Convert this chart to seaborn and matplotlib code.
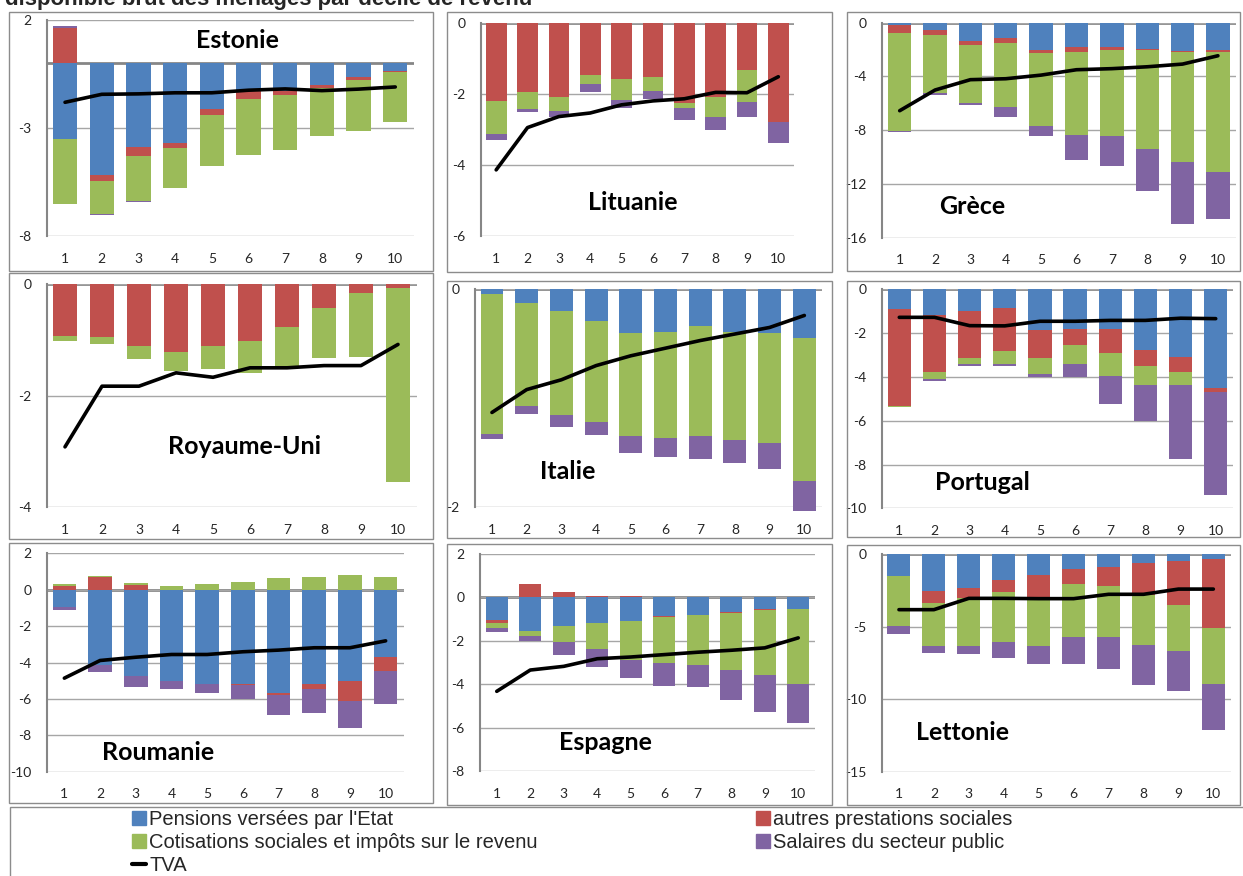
import numpy as np
import seaborn as sns
import matplotlib.pyplot as plt
from matplotlib.patches import Rectangle, Patch
from matplotlib.lines import Line2D

W, H = 1243, 876

deciles = list(range(1, 11))

# séries (en % du revenu disponible brut), lues sur le graphique
# ordre d'empilement : pensions, autres prestations, cotisations, salaires publics
est_pensions = [-3.52, -5.17, -3.89, -3.71, -2.13, -1.31, -1.31, -1.02, -0.65, -0.36]
est_autres = [1.62, -0.28, -0.40, -0.23, -0.28, -0.34, -0.17, -0.15, -0.12, -0.05]
est_cotis = [-3.01, -1.54, -2.07, -1.82, -2.35, -2.58, -2.52, -2.22, -2.35, -2.30]
est_salaires = [0.08, -0.05, -0.05, 0, 0, 0, 0, 0, 0, 0]
est_tva = [-1.81, -1.44, -1.42, -1.37, -1.37, -1.25, -1.19, -1.27, -1.20, -1.10]

lit_pensions = [0, 0, 0, 0, 0, 0, 0, 0, 0, 0]
lit_autres = [-2.20, -1.95, -2.10, -1.48, -1.59, -1.52, -2.27, -2.10, -1.34, -2.78]
lit_cotis = [-0.94, -0.47, -0.39, -0.25, -0.58, -0.40, -0.12, -0.54, -0.90, 0]
lit_salaires = [-0.17, -0.10, -0.17, -0.22, -0.23, -0.23, -0.35, -0.37, -0.42, -0.60]
lit_tva = [-4.14, -2.95, -2.64, -2.54, -2.31, -2.20, -2.14, -1.96, -1.97, -1.52]

gre_pensions = [-0.17, -0.57, -1.34, -1.17, -2.01, -1.84, -1.84, -1.99, -2.08, -2.03]
gre_autres = [-0.60, -0.35, -0.32, -0.35, -0.25, -0.35, -0.22, -0.07, -0.10, -0.12]
gre_cotis = [-7.30, -4.34, -4.34, -4.79, -5.43, -6.18, -6.38, -7.34, -8.16, -8.93]
gre_salaires = [-0.10, -0.10, -0.10, -0.72, -0.74, -1.86, -2.23, -3.15, -4.62, -3.52]
gre_tva = [-6.55, -5.01, -4.24, -4.17, -3.90, -3.50, -3.42, -3.28, -3.08, -2.46]

ru_pensions = [0, 0, 0, 0, 0, 0, 0, 0, 0, 0]
ru_autres = [-0.92, -0.95, -1.10, -1.21, -1.10, -1.01, -0.77, -0.43, -0.16, -0.07]
ru_cotis = [-0.10, -0.13, -0.25, -0.34, -0.43, -0.59, -0.73, -0.89, -1.14, -3.48]
ru_salaires = [0, 0, 0, 0, 0, 0, 0, 0, 0, 0]
ru_tva = [-2.92, -1.83, -1.83, -1.59, -1.67, -1.50, -1.50, -1.46, -1.46, -1.08]

ita_pensions = [-0.04, -0.13, -0.20, -0.29, -0.40, -0.39, -0.34, -0.39, -0.40, -0.45]
ita_autres = [0, 0, 0, 0, 0, 0, 0, 0, 0, 0]
ita_cotis = [-1.29, -0.94, -0.95, -0.93, -0.95, -0.97, -1.01, -0.99, -1.01, -1.31]
ita_salaires = [-0.04, -0.07, -0.11, -0.12, -0.15, -0.18, -0.21, -0.21, -0.24, -0.27]
ita_tva = [-1.13, -0.92, -0.83, -0.70, -0.61, -0.54, -0.47, -0.41, -0.35, -0.24]

por_pensions = [-0.91, -1.19, -0.97, -0.87, -1.87, -1.83, -1.83, -2.77, -3.10, -4.51]
por_autres = [-4.40, -2.59, -2.18, -1.95, -1.28, -0.73, -1.10, -0.73, -0.67, -0.17]
por_cotis = [-0.08, -0.33, -0.27, -0.58, -0.70, -0.85, -1.03, -0.85, -0.58, 0]
por_salaires = [0, -0.06, -0.06, -0.11, -0.17, -0.61, -1.26, -1.67, -3.38, -4.72]
por_tva = [-1.28, -1.28, -1.66, -1.67, -1.46, -1.46, -1.42, -1.42, -1.32, -1.34]

rou_pensions = [-0.97, -4.15, -4.75, -5.01, -5.16, -5.16, -5.69, -5.19, -5.03, -3.72]
rou_autres = [0.22, 0.68, 0.24, 0, 0, -0.06, -0.11, -0.28, -1.06, -0.75]
rou_cotis = [0.09, 0.09, 0.13, 0.22, 0.29, 0.42, 0.62, 0.68, 0.83, 0.68]
rou_salaires = [-0.13, -0.39, -0.59, -0.46, -0.51, -0.81, -1.08, -1.28, -1.52, -1.80]
rou_tva = [-4.86, -3.89, -3.71, -3.56, -3.56, -3.41, -3.32, -3.19, -3.19, -2.81]

esp_pensions = [-1.03, -1.54, -1.31, -1.17, -1.08, -0.85, -0.83, -0.66, -0.55, -0.51]
esp_autres = [-0.14, 0.63, 0.23, 0.09, 0.09, -0.03, 0, -0.06, -0.03, 0]
esp_cotis = [-0.23, -0.22, -0.72, -1.22, -1.82, -2.12, -2.28, -2.60, -2.97, -3.45]
esp_salaires = [-0.17, -0.26, -0.62, -0.82, -0.80, -1.09, -1.03, -1.40, -1.72, -1.83]
esp_tva = [-4.32, -3.34, -3.17, -2.82, -2.74, -2.63, -2.52, -2.43, -2.32, -1.86]

let_pensions = [-1.50, -2.53, -2.35, -1.75, -1.43, -0.99, -0.90, -0.62, -0.48, -0.32]
let_autres = [0, -0.83, -0.69, -0.83, -1.73, -1.08, -1.27, -2.19, -3.04, -4.79]
let_cotis = [-3.46, -2.97, -3.29, -3.50, -3.18, -3.66, -3.57, -3.43, -3.13, -3.82]
let_salaires = [-0.51, -0.48, -0.58, -1.06, -1.24, -1.84, -2.17, -2.76, -2.76, -3.20]
let_tva = [-3.82, -3.82, -3.04, -3.04, -3.06, -3.06, -2.76, -2.76, -2.40, -2.40]

series_labels = ["Pensions versées par l'Etat", "autres prestations sociales",
                 "Cotisations sociales et impôts sur le revenu", "Salaires du secteur public"]
colors = ["#4F81BD", "#C0504D", "#9BBB59", "#8064A2"]

# (nom, données, ymin, ymax, pas, axes en px [gauche, haut, droite, bas], cadre px, position du nom px)
panels = [
    ("Estonie", (est_pensions, est_autres, est_cotis, est_salaires, est_tva), -8, 2, 5,
     (46.7, 20, 413.6, 236), (9, 12, 433, 271), (237, 40)),
    ("Lituanie", (lit_pensions, lit_autres, lit_cotis, lit_salaires, lit_tva), -6, 0, 2,
     (480.5, 22.7, 794, 236), (447, 12, 832, 272), (633, 203)),
    ("Grèce", (gre_pensions, gre_autres, gre_cotis, gre_salaires, gre_tva), -16, 0, 4,
     (882, 22.7, 1235.6, 237.7), (847, 12, 1240, 271), (972, 207)),
    ("Royaume-Uni", (ru_pensions, ru_autres, ru_cotis, ru_salaires, ru_tva), -4, 0, 2,
     (46.5, 284.3, 416.5, 507), (9, 273, 433, 539), (245, 446)),
    ("Italie", (ita_pensions, ita_autres, ita_cotis, ita_salaires, ita_tva), -2, 0, 2,
     (474.6, 289.3, 821.7, 507.3), (447, 281, 832, 538), (568, 471)),
    ("Portugal", (por_pensions, por_autres, por_cotis, por_salaires, por_tva), -10, 0, 2,
     (881.7, 289.3, 1233.3, 508.3), (847, 281, 1240, 537), (982, 483)),
    ("Roumanie", (rou_pensions, rou_autres, rou_cotis, rou_salaires, rou_tva), -10, 2, 2,
     (46.5, 553.3, 403.5, 771.7), (9, 543, 433, 803), (158, 753)),
    ("Espagne", (esp_pensions, esp_autres, esp_cotis, esp_salaires, esp_tva), -8, 2, 2,
     (480, 554, 815, 771.3), (447, 544, 832, 805), (605, 743)),
    ("Lettonie", (let_pensions, let_autres, let_cotis, let_salaires, let_tva), -15, 0, 5,
     (881.5, 554.3, 1230.8, 771.7), (847, 545, 1240, 805), (963, 732)),
]

sns.set_theme(style="white")
plt.rcParams["font.family"] = ["Lato", "DejaVu Sans"]
plt.rcParams["axes.unicode_minus"] = False

fig = plt.figure(figsize=(W / 100, H / 100), dpi=100)


def draw_panel(ax, data, ymin, ymax, step):
    tva = data[4]
    pos = np.zeros(10)
    neg = np.zeros(10)
    pos_tops, neg_tops = [], []
    for s in data[:4]:
        s = np.asarray(s, dtype=float)
        pos = pos + np.maximum(s, 0)
        neg = neg + np.minimum(s, 0)
        pos_tops.append(pos.copy())
        neg_tops.append(neg.copy())
    # barres cumulées superposées, de la dernière série à la première
    for i in reversed(range(4)):
        for tops in (neg_tops, pos_tops):
            if np.any(tops[i] != 0):
                sns.barplot(x=deciles, y=tops[i], native_scale=True, color=colors[i],
                            saturation=1, width=0.66, errorbar=None, linewidth=0,
                            clip_on=False, ax=ax)
    sns.lineplot(x=deciles, y=tva, color="black", linewidth=2.6, ax=ax, zorder=5)
    ax.axhline(0, color="#868686", lw=2, zorder=0.5)
    ax.set_xlim(0.5, 10.5)
    ax.set_ylim(ymin, ymax)
    ticks = np.arange(ymin, ymax + step / 2, step)
    ax.set_yticks(ticks)
    ax.set_yticklabels([str(int(t)) for t in ticks])
    ax.set_xticks(deciles)
    ax.set_xticklabels([str(d) for d in deciles])
    ax.yaxis.grid(True, color="#a6a6a6", lw=1)
    ax.set_axisbelow(True)
    for side in ("top", "right", "bottom"):
        ax.spines[side].set_visible(False)
    ax.spines["left"].set_color("#868686")
    ax.spines["left"].set_linewidth(1.5)
    ax.tick_params(axis="y", length=0, labelsize=10, pad=11)
    ax.tick_params(axis="x", length=0, labelsize=10, pad=12)
    ax.set_xlabel("")
    ax.set_ylabel("")
    ax.set_facecolor("white")


for name, data, ymin, ymax, step, box, frame, lab in panels:
    l, t, r, b = box
    ax = fig.add_axes([l / W, 1 - b / H, (r - l) / W, (b - t) / H])
    draw_panel(ax, data, ymin, ymax, step)
    x0, y0, x1, y1 = frame
    fig.add_artist(Rectangle((x0 / W, 1 - y1 / H), (x1 - x0) / W, (y1 - y0) / H,
                             transform=fig.transFigure, fill=False,
                             edgecolor="#8c8c8c", lw=1))
    fig.text(lab[0] / W, 1 - lab[1] / H, name, ha="center", va="center",
             fontsize=18, fontweight="bold", color="black")

# cadre de la légende
fig.add_artist(Rectangle((10 / W, -0.01), 1240 / W, 1 - 807 / H + 0.01,
                         transform=fig.transFigure, fill=False, edgecolor="#8c8c8c", lw=1))

leg_font = {"family": ["Liberation Sans", "DejaVu Sans"], "size": 14.5}
leg_kw = dict(loc="upper left", frameon=False, prop=leg_font, handlelength=0.7,
              handleheight=0.7, handletextpad=0.15, labelspacing=0.2,
              borderaxespad=0, borderpad=0)
h_left = [Patch(color=colors[0]), Patch(color=colors[2]), Line2D([], [], color="black", lw=3)]
fig.legend(h_left, [series_labels[0], series_labels[2], "TVA"],
           bbox_to_anchor=(132 / W, 1 - 810 / H), **leg_kw)
h_right = [Patch(color=colors[1]), Patch(color=colors[3])]
fig.legend(h_right, [series_labels[1], series_labels[3]],
           bbox_to_anchor=(756 / W, 1 - 810 / H), **leg_kw)

fig.text(5 / W, 1 - 5 / H, "disponible brut des ménages par décile de revenu",
         fontsize=16, fontweight="bold", family=["Liberation Sans", "DejaVu Sans"],
         va="baseline", ha="left")

fig.savefig("out.png", dpi=100)
